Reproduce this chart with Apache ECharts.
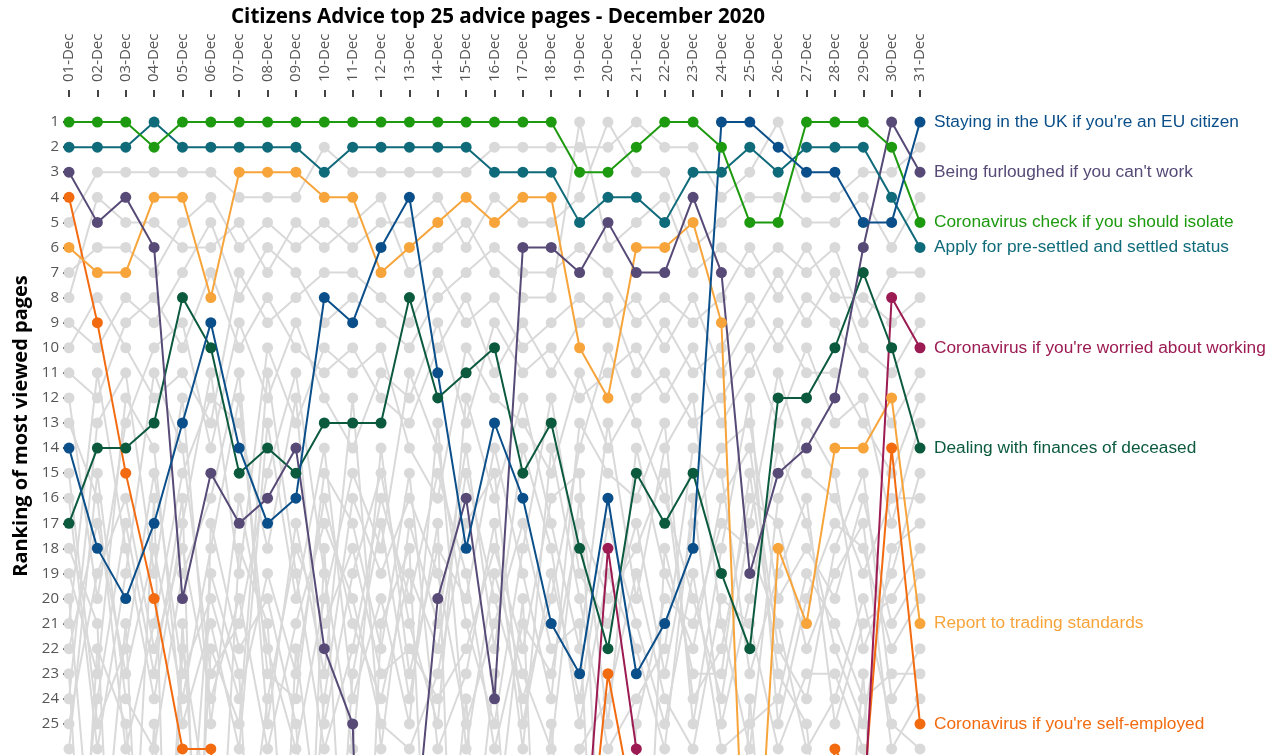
<!DOCTYPE html>
<html>
<head>
<meta charset="utf-8">
<title>Citizens Advice top 25 advice pages - December 2020</title>
<script src="https://cdn.jsdelivr.net/npm/echarts@6/dist/echarts.min.js"></script>
<style>
  html, body { margin: 0; padding: 0; background: #fff; }
  #chart { width: 1272px; height: 755px; }
</style>
</head>
<body>
<div id="chart"></div>
<script>
// dates along the top
const days = ['01-Dec', '02-Dec', '03-Dec', '04-Dec', '05-Dec', '06-Dec', '07-Dec', '08-Dec', '09-Dec', '10-Dec',
  '11-Dec', '12-Dec', '13-Dec', '14-Dec', '15-Dec', '16-Dec', '17-Dec', '18-Dec', '19-Dec', '20-Dec',
  '21-Dec', '22-Dec', '23-Dec', '24-Dec', '25-Dec', '26-Dec', '27-Dec', '28-Dec', '29-Dec', '30-Dec', '31-Dec']

const yTicks = [1, 2, 3, 4, 5, 6, 7, 8, 9, 10, 11, 12, 13, 14, 15, 16, 17, 18, 19, 20, 21, 22, 23, 24, 25]

// highlighted pages (rank per day, > 25 = outside the top 25)
const stayingUK = [14, 18, 20, 17, 13, 9, 14, 17, 16, 8, 9, 6, 4, 11, 18, 13, 16, 21, 23, 16, 23, 21, 18, 1, 1, 2, 3, 3, 5, 5, 1]
const furloughed = [3, 5, 4, 6, 20, 15, 17, 16, 14, 22, 25, 57, 32, 20, 16, 24, 6, 6, 7, 5, 7, 7, 4, 7, 19, 15, 14, 12, 6, 1, 3]
const isolate = [1, 1, 1, 2, 1, 1, 1, 1, 1, 1, 1, 1, 1, 1, 1, 1, 1, 1, 3, 3, 2, 1, 1, 2, 5, 5, 1, 1, 1, 2, 5]
const settled = [2, 2, 2, 1, 2, 2, 2, 2, 2, 3, 2, 2, 2, 2, 2, 3, 3, 3, 5, 4, 4, 5, 3, 3, 2, 3, 2, 2, 2, 4, 6]
const worried = [41, 44, 47, 39, 45, 50, 43, 48, 52, 46, 40, 44, 49, 53, 47, 42, 38, 36, 33, 18, 26, 37, 45, 51, 43, 48, 40, 35, 29, 8, 10]
const deceased = [17, 14, 14, 13, 8, 10, 15, 14, 15, 13, 13, 13, 8, 12, 11, 10, 15, 13, 18, 22, 15, 17, 15, 19, 22, 12, 12, 10, 7, 10, 14]
const tradingStd = [6, 7, 7, 4, 4, 8, 3, 3, 3, 4, 4, 7, 6, 5, 4, 5, 4, 4, 10, 12, 6, 6, 5, 9, 37, 18, 21, 14, 14, 12, 21]
const selfEmployed = [4, 9, 15, 20, 26, 26, 38, 45, 52, 48, 55, 60, 50, 44, 47, 53, 58, 49, 34, 23, 29, 40, 46, 52, 48, 43, 35, 26, 28, 14, 25]

// all the other pages, one column per day (position i = same page every day)
const greyByDay = [
  [5, 7, 8, 9, 10, 11, 12, 21, 15, 24, 13, 19, 26, 16, 22, 18, 25, 20, 23, 34, 40, 48, 31, 55],
  [3, 6, 4, 10, 8, 12, 20, 11, 25, 13, 16, 23, 15, 26, 17, 21, 19, 33, 42, 24, 22, 52, 38, 60],
  [3, 6, 5, 8, 10, 9, 13, 18, 22, 11, 26, 12, 24, 19, 23, 45, 16, 21, 37, 17, 25, 30, 50, 58],
  [3, 7, 5, 9, 12, 8, 10, 24, 15, 19, 21, 14, 26, 11, 18, 25, 22, 44, 16, 23, 36, 47, 53, 32],
  [3, 5, 6, 7, 11, 10, 9, 17, 23, 12, 15, 25, 19, 14, 24, 41, 18, 21, 56, 16, 34, 22, 46, 39],
  [3, 4, 6, 5, 13, 7, 14, 11, 20, 25, 12, 21, 16, 23, 18, 22, 24, 38, 17, 51, 19, 29, 43, 60],
  [4, 6, 5, 8, 7, 10, 9, 19, 24, 16, 13, 26, 11, 21, 12, 25, 20, 18, 22, 33, 23, 48, 40, 57],
  [4, 5, 7, 6, 9, 8, 12, 10, 19, 22, 18, 13, 25, 15, 23, 11, 26, 21, 20, 24, 44, 36, 30, 52],
  [4, 6, 5, 7, 8, 10, 9, 13, 23, 26, 12, 20, 17, 11, 24, 19, 21, 37, 25, 18, 22, 45, 33, 59],
  [2, 5, 6, 9, 7, 11, 12, 10, 16, 20, 25, 14, 23, 19, 15, 26, 17, 24, 40, 21, 31, 18, 49, 55],
  [3, 6, 5, 8, 7, 10, 14, 11, 21, 15, 19, 24, 12, 26, 17, 22, 20, 16, 23, 18, 46, 38, 34, 50],
  [3, 5, 4, 9, 8, 12, 11, 10, 24, 18, 15, 20, 26, 14, 22, 16, 25, 19, 17, 23, 21, 43, 36, 58],
  [3, 5, 7, 10, 9, 13, 12, 14, 19, 11, 21, 25, 17, 23, 15, 20, 26, 16, 24, 22, 18, 39, 47, 54],
  [3, 4, 6, 8, 7, 10, 9, 16, 22, 14, 25, 13, 21, 18, 26, 15, 23, 19, 17, 24, 41, 35, 52, 29],
  [3, 6, 5, 7, 9, 8, 13, 10, 15, 21, 12, 26, 14, 20, 23, 19, 17, 25, 48, 22, 33, 24, 44, 37],
  [2, 4, 7, 6, 8, 11, 9, 12, 20, 25, 16, 19, 22, 14, 17, 26, 15, 21, 30, 18, 23, 42, 55, 47],
  [2, 5, 8, 7, 10, 9, 11, 13, 24, 18, 12, 23, 14, 19, 26, 21, 25, 17, 20, 22, 38, 32, 46, 53],
  [2, 5, 8, 7, 9, 11, 10, 15, 20, 12, 17, 26, 18, 24, 14, 23, 19, 22, 45, 16, 25, 36, 51, 40],
  [2, 4, 1, 6, 8, 9, 12, 11, 14, 19, 22, 16, 25, 13, 20, 17, 24, 21, 26, 15, 39, 50, 33, 44],
  [2, 1, 6, 7, 9, 8, 11, 14, 10, 21, 13, 25, 19, 15, 26, 20, 17, 43, 24, 37, 31, 56, 48, 35],
  [1, 3, 5, 9, 8, 11, 10, 12, 13, 17, 20, 14, 22, 16, 24, 18, 21, 25, 19, 41, 47, 34, 29, 53],
  [2, 3, 4, 8, 10, 9, 12, 11, 16, 23, 14, 19, 26, 13, 22, 15, 25, 20, 24, 18, 52, 38, 31, 45],
  [2, 6, 7, 9, 8, 11, 10, 13, 20, 17, 12, 22, 16, 25, 14, 24, 19, 21, 26, 23, 42, 49, 35, 57],
  [4, 5, 6, 8, 11, 10, 13, 12, 24, 14, 21, 16, 25, 18, 15, 22, 26, 17, 20, 23, 46, 39, 33, 51],
  [3, 4, 7, 6, 9, 8, 11, 10, 17, 13, 26, 14, 20, 12, 23, 16, 25, 18, 21, 15, 24, 44, 30, 58],
  [1, 4, 6, 8, 7, 10, 9, 13, 11, 20, 16, 22, 14, 25, 19, 17, 24, 21, 26, 23, 37, 48, 41, 54],
  [4, 5, 7, 6, 9, 8, 11, 10, 15, 18, 13, 24, 17, 20, 16, 22, 19, 26, 23, 25, 32, 45, 53, 38],
  [4, 5, 6, 8, 7, 9, 11, 13, 16, 20, 15, 18, 22, 17, 25, 19, 21, 24, 23, 36, 43, 50, 31, 57],
  [3, 4, 9, 8, 10, 11, 13, 12, 19, 16, 22, 15, 25, 18, 21, 17, 24, 20, 26, 23, 40, 47, 34, 55],
  [3, 6, 7, 9, 11, 13, 15, 17, 16, 21, 19, 24, 18, 22, 20, 26, 23, 25, 33, 41, 48, 38, 52, 45],
  [2, 4, 7, 8, 9, 11, 12, 13, 16, 19, 15, 22, 17, 20, 18, 24, 23, 26, 39, 30, 46, 54, 35, 42]
]

const highlights = [
  { name: 'Coronavirus if you\'re self-employed', data: selfEmployed, color: '#f36b10' },
  { name: 'Report to trading standards', data: tradingStd, color: '#f7a43b' },
  { name: 'Coronavirus if you\'re worried about working', data: worried, color: '#9c1b52' },
  { name: 'Dealing with finances of deceased', data: deceased, color: '#0b5a3e' },
  { name: 'Being furloughed if you can\'t work', data: furloughed, color: '#574a77' },
  { name: 'Apply for pre-settled and settled status', data: settled, color: '#0f6a7a' },
  { name: 'Coronavirus check if you should isolate', data: isolate, color: '#1d9a0f' },
  { name: 'Staying in the UK if you\'re an EU citizen', data: stayingUK, color: '#0b4f8a' }
]

const chart = echarts.init(document.getElementById('chart'))

const series = []
for (let g = 0; g < greyByDay[0].length; g++) {
  series.push({
    type: 'line',
    data: greyByDay.map(col => col[g]),
    symbol: 'circle',
    symbolSize: 11,
    silent: true,
    z: 1,
    lineStyle: { color: '#d9d9d9', width: 2 },
    itemStyle: { color: '#d9d9d9' }
  })
}
highlights.forEach(h => {
  series.push({
    name: h.name,
    type: 'line',
    data: h.data,
    symbol: 'circle',
    symbolSize: 11,
    z: 3,
    lineStyle: { color: h.color, width: 2 },
    itemStyle: { color: h.color },
    endLabel: {
      show: true,
      formatter: '{a}',
      color: h.color,
      fontSize: 17.3,
      fontFamily: 'Liberation Sans, Arial, sans-serif',
      distance: 14
    }
  })
})

chart.setOption({
  animation: false,
  title: {
    text: 'Citizens Advice top 25 advice pages - December 2020',
    left: 226,
    top: 2,
    textStyle: { fontFamily: 'Open Sans', fontWeight: 'bold', fontSize: 20.6, color: '#000' }
  },
  grid: { left: 69, right: 352, top: 97, bottom: 0 },
  xAxis: {
    type: 'category',
    position: 'top',
    offset: 5,
    data: days,
    boundaryGap: false,
    axisLine: { show: false },
    axisTick: { show: true, alignWithLabel: true, length: 7, lineStyle: { color: '#444', width: 2 } },
    axisLabel: { rotate: 90, interval: 0, fontFamily: 'Open Sans', fontSize: 15, color: '#555', margin: 10 },
    splitLine: { show: false }
  },
  yAxis: {
    type: 'value',
    inverse: true,
    min: 0,
    max: 26.24,
    interval: 1,
    name: 'Ranking of most viewed pages',
    nameLocation: 'middle',
    nameGap: 37,
    nameTextStyle: { fontFamily: 'Open Sans', fontWeight: 'bold', fontSize: 20, color: '#000' },
    axisLine: { show: false },
    axisTick: { show: true, length: 6, lineStyle: { color: '#444', width: 2 }, customValues: yTicks },
    axisLabel: { fontFamily: 'Open Sans', fontSize: 15, color: '#555', margin: 10, customValues: yTicks },
    splitLine: { show: false }
  },
  series: series
})
</script>
</body>
</html>
